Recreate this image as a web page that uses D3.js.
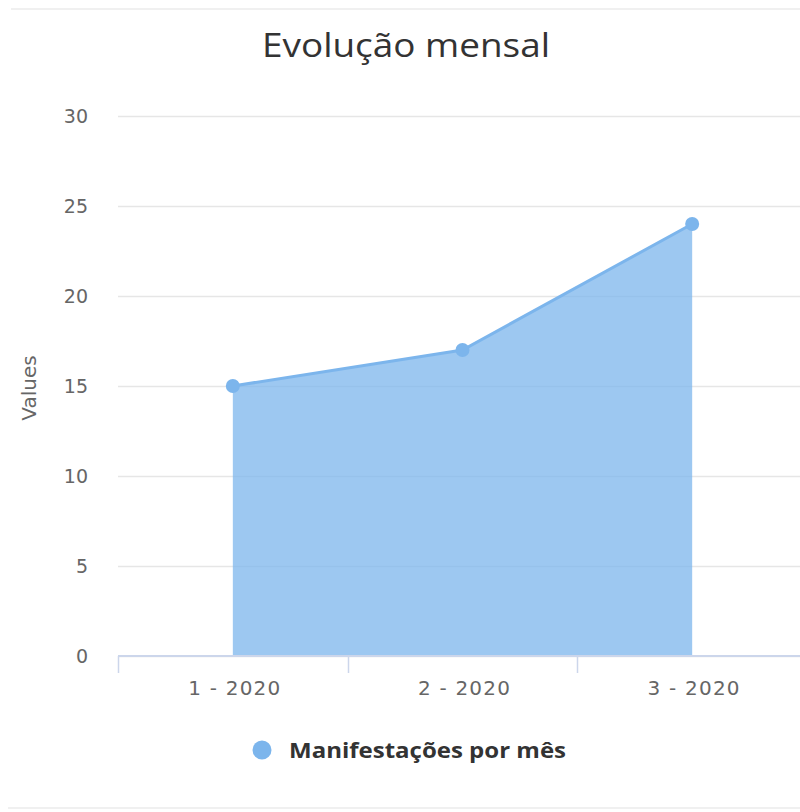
<!DOCTYPE html>
<html>
<head>
<meta charset="utf-8">
<script src="https://cdn.jsdelivr.net/npm/d3@7"></script>
<style>
  html, body { margin: 0; padding: 0; background: #fff; }
  svg { display: block; }
</style>
</head>
<body>
<div id="chart"></div>
<script>
// chart data
var categories = ["1 - 2020", "2 - 2020", "3 - 2020"];
var values = [15, 17, 24];
var yTicks = [0, 5, 10, 15, 20, 25, 30];
var seriesName = "Manifestações por mês";
var chartTitle = "Evolução mensal";
var yTitle = "Values";

var W = 800, H = 812;
var margin = {top: 116, right: -7, bottom: 156, left: 118};
var width = W - margin.left - margin.right,
    height = H - margin.top - margin.bottom;

var svg = d3.select("#chart").append("svg")
    .attr("width", W)
    .attr("height", H);

// light frame lines top and bottom
svg.append("rect").attr("x", 11).attr("y", 8).attr("width", W).attr("height", 2).attr("fill", "#f0f0f0");
svg.append("rect").attr("x", 8).attr("y", 807).attr("width", W).attr("height", 2).attr("fill", "#f0f0f0");

var x = d3.scaleBand()
    .domain(categories)
    .range([0, width]);

var y = d3.scaleLinear()
    .domain([0, 30])
    .range([height, 0]);

var g = svg.append("g")
    .attr("transform", "translate(" + margin.left + "," + margin.top + ")");

// gridlines
g.append("g")
    .selectAll("line")
    .data(yTicks).enter()
    .append("line")
    .attr("x1", 0)
    .attr("x2", W - margin.left)
    .attr("y1", function(d){ return Math.round(y(d)) + 0.5; })
    .attr("y2", function(d){ return Math.round(y(d)) + 0.5; })
    .attr("stroke", "#e6e6e6")
    .attr("stroke-width", 1.5);

// y tick labels
g.append("g")
    .selectAll("text")
    .data(yTicks).enter()
    .append("text")
    .attr("x", -30)
    .attr("y", function(d){ return y(d); })
    .attr("dy", "0.36em")
    .attr("text-anchor", "end")
    .attr("fill", "#666666")
    .style("font-family", "'DejaVu Sans', sans-serif")
    .style("font-size", "19px")
    .text(function(d){ return d; });

var cx = function(d, i){ return x(categories[i]) + x.bandwidth() / 2; };

// area
var area = d3.area()
    .x(cx)
    .y0(y(0))
    .y1(function(d){ return y(d); });

g.append("path")
    .datum(values)
    .attr("d", area)
    .attr("fill", "#7cb5ec")
    .attr("fill-opacity", 0.75);

var line = d3.line()
    .x(cx)
    .y(function(d){ return y(d); });

g.append("path")
    .datum(values)
    .attr("d", line)
    .attr("fill", "none")
    .attr("stroke", "#7cb5ec")
    .attr("stroke-width", 3);

g.append("g")
    .selectAll("circle")
    .data(values).enter()
    .append("circle")
    .attr("cx", cx)
    .attr("cy", function(d){ return y(d); })
    .attr("r", 7)
    .attr("fill", "#7cb5ec");

// x axis
var xAxis = g.append("g")
    .attr("transform", "translate(0," + height + ")");

xAxis.append("line")
    .attr("x1", 0)
    .attr("x2", W - margin.left)
    .attr("y1", 0)
    .attr("y2", 0)
    .attr("stroke", "#ccd6eb")
    .attr("stroke-width", 2);

xAxis.selectAll("tick")
    .data(categories).enter()
    .append("line")
    .attr("x1", function(d){ return Math.round(x(d)) + 0.5; })
    .attr("x2", function(d){ return Math.round(x(d)) + 0.5; })
    .attr("y1", 0)
    .attr("y2", 17)
    .attr("stroke", "#ccd6eb")
    .attr("stroke-width", 1.5);

xAxis.selectAll("label")
    .data(categories).enter()
    .append("text")
    .attr("x", function(d){ return x(d) + x.bandwidth() / 2 + 2; })
    .attr("y", 39)
    .attr("text-anchor", "middle")
    .attr("fill", "#666666")
    .style("font-family", "'DejaVu Sans', sans-serif")
    .style("font-size", "20px")
    .style("letter-spacing", "1.2px")
    .text(function(d){ return d; });

// y axis title
svg.append("text")
    .attr("transform", "translate(36," + (margin.top + y(15) + 2) + ") rotate(-90)")
    .attr("text-anchor", "middle")
    .attr("fill", "#666666")
    .style("font-family", "'DejaVu Sans', sans-serif")
    .style("font-size", "20px")
    .text(yTitle);

// title
svg.append("text")
    .attr("x", 406)
    .attr("y", 57)
    .attr("text-anchor", "middle")
    .attr("fill", "#333333")
    .style("font-family", "'Open Sans', sans-serif")
    .style("font-size", "33px")
    .attr("textLength", 288)
    .attr("lengthAdjust", "spacingAndGlyphs")
    .text(chartTitle);

// legend
var legend = svg.append("g");
legend.append("circle")
    .attr("cx", 262)
    .attr("cy", 750)
    .attr("r", 9.5)
    .attr("fill", "#7cb5ec");
legend.append("text")
    .attr("x", 289)
    .attr("y", 758)
    .attr("fill", "#333333")
    .style("font-family", "'Open Sans', sans-serif")
    .style("font-size", "21px")
    .style("font-weight", "bold")
    .attr("textLength", 277)
    .attr("lengthAdjust", "spacingAndGlyphs")
    .text(seriesName);
</script>
</body>
</html>
